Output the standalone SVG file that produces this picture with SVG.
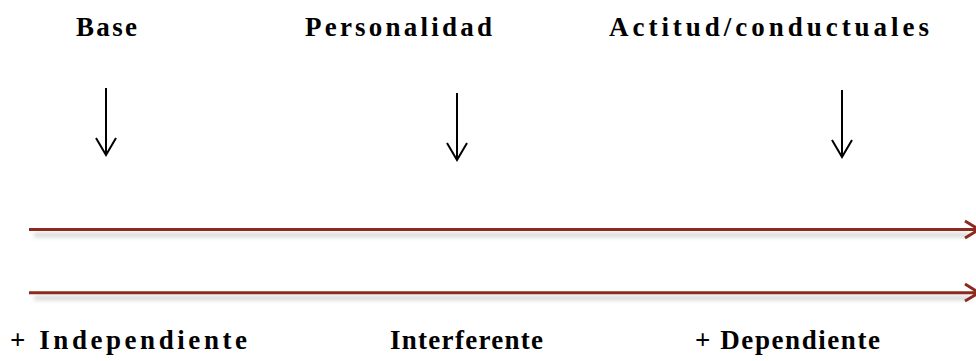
<svg xmlns="http://www.w3.org/2000/svg" width="976" height="361" viewBox="0 0 976 361">
<style>
.lbl{font-family:"Liberation Serif","Times New Roman",serif;font-weight:700;font-size:27px;fill:#000}
.down{stroke:#000;stroke-width:2;fill:none}
.axis{stroke:#8B2A1F;stroke-width:3;fill:none}
.shadow{stroke:#9a9a9a;stroke-width:4;fill:none;opacity:0.45}
</style>
<defs>
<filter id="blur" x="-5%" y="-200%" width="110%" height="500%"><feGaussianBlur stdDeviation="2"/></filter>
</defs>
<g id="label-base"><text class="lbl" x="76" y="36" textLength="61" lengthAdjust="spacing">Base</text></g>
<g id="label-personalidad"><text class="lbl" x="305" y="36" textLength="187" lengthAdjust="spacing">Personalidad</text></g>
<g id="label-actitud"><text class="lbl" x="609" y="36" textLength="320" lengthAdjust="spacing">Actitud/conductuales</text></g>
<g id="label-independiente"><text class="lbl" x="10" y="349" textLength="237" lengthAdjust="spacing">+ Independiente</text></g>
<g id="label-interferente"><text class="lbl" x="390" y="349" textLength="153" lengthAdjust="spacing">Interferente</text></g>
<g id="label-dependiente"><text class="lbl" x="695" y="349" textLength="185" lengthAdjust="spacing">+ Dependiente</text></g>
<g id="connectors">
<path class="down" d="M106 88V155M96 138L106 155L116 138"/>
<path class="down" d="M457 93V160M447 143L457 160L467 143"/>
<path class="down" d="M842 90V157M832 140L842 157L852 140"/>
<g filter="url(#blur)">
<path class="shadow" d="M34 235H970"/>
<path class="shadow" d="M34 298H970"/>
</g>
<path class="axis" d="M29 229.5H976M965 221L979 229.5L965 238"/>
<path class="axis" d="M29 292.7H976M965 284L979 292.7L965 301"/>
</g>
</svg>
